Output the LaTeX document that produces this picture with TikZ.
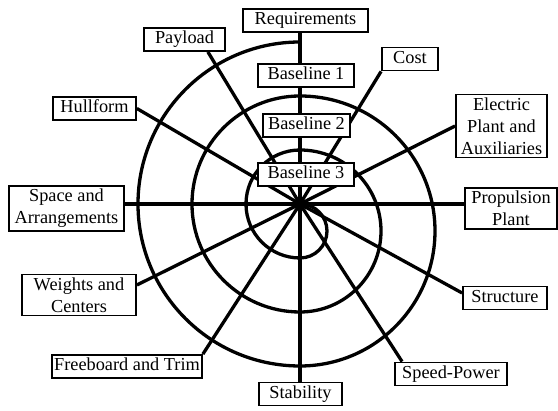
\documentclass[tikz,border=0pt]{standalone}
\usepackage{fontspec}
\setmainfont{Liberation Serif}
\usetikzlibrary{positioning, backgrounds}

\begin{document}
\begin{tikzpicture}
        % design spiral, one unit is one pixel of the reference
        \tikzstyle{box}=[draw, line width=1.8pt, fill=white, inner xsep=2pt, inner ysep=3pt, font=\fontsize{18.3}{22}\selectfont]
        \tikzstyle{one}=[box, text height=13pt, text depth=4pt]
        \tikzstyle{many}=[box, align=center]
        \tikzstyle{spoke}=[line width=3.3pt]

        \useasboundingbox (-300pt,-207pt) rectangle (258pt,204pt);
        \coordinate (C) at (0,0);

        \node[one, minimum width=125pt] (req) at (5.5pt, 183.5pt) {Requirements};
        \node[one, minimum width=96pt] (b1) at (6pt, 128.5pt) {Baseline 1};
        \node[one, minimum width=87pt] (b2) at (6.5pt, 78.5pt) {Baseline 2};
        \node[one, minimum width=96pt] (b3) at (6pt, 29.5pt) {Baseline 3};
        \node[one, minimum width=56pt] (cost) at (110pt, 145pt) {Cost};
        \node[many, minimum width=91pt] (elec) at (201.5pt, 78pt) {Electric\\Plant and\\Auxiliaries};
        \node[many, minimum width=92pt] (prop) at (211pt, -4.5pt) {Propulsion\\Plant};
        \node[one, minimum width=84pt] (struct) at (205pt, -94pt) {Structure};
        \node[one, minimum width=112pt] (speed) at (151pt, -170pt) {Speed-Power};
        \node[one, minimum width=83pt] (stab) at (0.5pt, -190pt) {Stability};
        \node[one, minimum width=150pt] (free) at (-173pt, -162.5pt) {Freeboard and Trim};
        \node[many, minimum width=114pt] (weights) at (-221pt, -91pt) {Weights and\\Centers};
        \node[many, minimum width=115pt] (space) at (-233.5pt, -4.5pt) {Space and\\Arrangements};
        \node[one, minimum width=83pt] (hull) at (-205.5pt, 95.5pt) {Hullform};
        \node[one, minimum width=81pt] (payload) at (-115.5pt, 164.5pt) {Payload};

        \begin{scope}[on background layer]
        \draw[spoke] (0pt,162pt) \foreach \r/\s in {162/135, 108/81, 54/27} {
            arc[start angle=90, end angle=270, radius=\r pt]
            arc[start angle=270, end angle=450, radius=\s pt]};

        \draw[spoke] (C) -- (C |- req.south);
        \draw[spoke] (C) -- (cost.south west);
        \draw[spoke] (C) -- (elec.west);
        \draw[spoke] (C) -- (C -| prop.west);
        \draw[spoke] (C) -- ([yshift=5pt]struct.west);
        \draw[spoke] (C) -- ([xshift=8pt]speed.north west);
        \draw[spoke] (C) -- (C |- stab.north);
        \draw[spoke] (C) -- (free.north east);
        \draw[spoke] (C) -- ([yshift=10pt]weights.east);
        \draw[spoke] (C) -- (C -| space.east);
        \draw[spoke] (C) -- (hull.east);
        \draw[spoke] (C) -- ([xshift=-18pt]payload.south east);
        \end{scope}
      \end{tikzpicture}
\end{document}
